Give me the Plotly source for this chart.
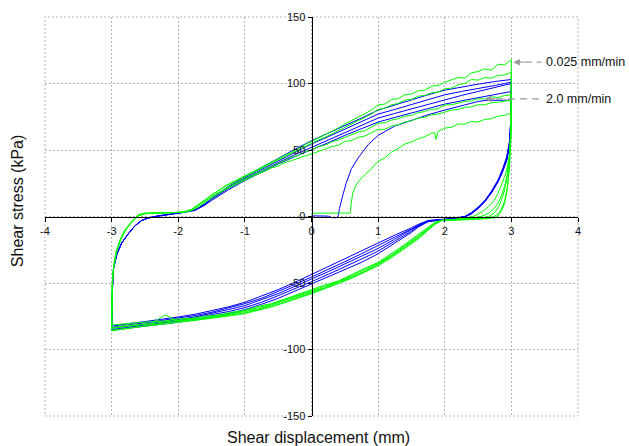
import plotly.graph_objects as go

# ---------------- tick values ----------------
X_TICKS = [-4, -3, -2, -1, 0, 1, 2, 3, 4]
Y_TICKS = [-150, -100, -50, 0, 50, 100, 150]

# ---------------- 2.0 mm/min (blue) ----------------
# initial loading
BX0 = [0.0, 0.25, 0.3, 0.37, 0.4, 0.42, 0.47, 0.52, 0.6, 0.7, 0.85, 1.0, 1.25, 1.5, 1.75, 2.0, 2.25, 2.5, 2.62, 2.8, 3.0]
BY0 = [0.5, 0.3, -0.8, -1.0, 0.5, 6, 16, 25, 36, 44, 54, 61, 68, 72.5, 76.5, 80, 83.5, 86.5, 87.3, 87.5, 87.5]

# unloading branches (3 -> -3)
BXU = [3.0, 2.99, 2.97, 2.93, 2.87, 2.8, 2.7, 2.6, 2.5, 2.4, 2.3, 2.1, 1.9, 1.75, 1.6, 1.5,
       1.25, 1.0, 0.75, 0.5, 0.25, 0.0, -0.25, -0.5, -0.75, -1.0, -1.25, -1.5, -1.75, -2.0,
       -2.25, -2.5, -2.75, -2.9, -3.0]
BU1 = [87.5, 66, 52, 42, 34, 26.5, 18, 11.5, 6.5, 2.5, 0, -1.5, -2.2, -3, -6, -8.5,
       -14, -20, -26, -32, -38, -44, -49.5, -55, -60, -64.5, -68, -71, -73.5, -75.5,
       -77.5, -79, -80.5, -81.5, -82.5]
BU2 = [94, 68, 53, 42.5, 34, 26, 17.5, 11, 6, 2, -0.3, -1.7, -2.4, -3.2, -6.5, -9.5,
       -15.5, -22, -28, -34, -40, -45.5, -51, -56.5, -61.5, -65.5, -69, -72, -74.5, -76.5,
       -78.5, -80, -81.5, -82.5, -83.5]
BU3 = [100, 70, 54, 43, 34.5, 26.5, 18, 11, 6, 2, -0.5, -1.8, -2.5, -3.4, -7, -10,
       -17, -24, -30, -36, -41.5, -47, -52.5, -58, -62.5, -67, -70, -73, -75.5, -77.5,
       -79.5, -81, -82.5, -83.5, -84]
BU4 = [101, 71, 55, 44, 35, 27, 18.5, 11.5, 6.5, 2.5, -0.2, -2, -2.6, -3.6, -7.5, -11,
       -18.5, -26, -32, -38, -43.5, -49, -54.5, -59.5, -64.5, -68.5, -71.5, -74, -76.5, -78.5,
       -80, -81.5, -83, -84, -85]
BU5 = [103, 72, 56, 45, 36, 27.5, 19, 12, 7, 3, 0, -2, -2.8, -4, -8, -12,
       -20, -28, -34.5, -40, -45.5, -51, -56.5, -61.5, -66, -70, -73, -75.5, -77.5, -79.5,
       -81, -82.5, -84, -85, -85.5]

# reloading branches (-3 -> 3)
BXL = [-3.0, -2.985, -2.97, -2.92, -2.85, -2.75, -2.65, -2.55, -2.45, -2.3, -2.1, -1.95,
       -1.75, -1.6, -1.5, -1.25, -1.0, -0.75, -0.5, -0.25, 0.0, 0.25, 0.5, 0.75, 1.0,
       1.25, 1.5, 1.75, 2.0, 2.25, 2.5, 2.75, 2.9, 3.0]
BR1 = [-82.5, -50, -38, -28, -20, -13, -7, -3, -1.2, 0.3, 1.6, 2.8,
       4.5, 8.5, 12, 20, 27, 33.5, 39.5, 45, 50, 55.5, 61, 66, 71,
       74.5, 78, 81.5, 84.5, 87, 89.5, 92, 93, 94]
BR2 = [-83.5, -51, -38.5, -28, -20, -13, -7, -3, -1.2, 0.3, 1.7, 2.9,
       4.8, 9, 13, 21, 28, 34.5, 40.5, 46.5, 52, 57.5, 63, 68.5, 74,
       77.5, 81, 84.5, 88, 91, 94, 97, 98.5, 100]
BR3 = [-84, -51, -38.5, -28, -20, -13, -7, -3, -1, 0.5, 1.8, 3,
       5, 9.5, 13.5, 22, 29, 35.5, 42, 48.5, 54.5, 60, 65.5, 71.5, 77,
       80.5, 84, 88, 91.5, 94, 96, 98.5, 100, 101]
BR4 = [-85, -52, -39, -28.5, -20, -13, -7, -3, -1, 0.5, 1.8, 3,
       5, 9.5, 14, 22.5, 30, 37, 44, 50.5, 57, 62.5, 68.5, 74, 80,
       84, 87.5, 91.5, 95, 97.5, 99.5, 101.5, 102.5, 103]

# ---------------- 0.025 mm/min (green) ----------------
GX0 = [0.0, 0.2, 0.4, 0.58, 0.6, 0.62, 0.66, 0.7, 0.8, 0.9, 1.0, 1.1, 1.2, 1.3, 1.4, 1.5,
       1.6, 1.7, 1.8, 1.85, 1.87, 1.9, 2.0, 2.1, 2.2, 2.3, 2.4, 2.5, 2.6, 2.7, 2.8, 2.9, 3.0]
GY0 = [2.5, 2.6, 2.5, 2.6, 11, 18, 22.5, 26, 31.5, 36, 41.5, 44, 48.5, 51, 54.5, 56,
       58.5, 60, 62.5, 63, 58, 64, 66.5, 67, 69.5, 69.5, 71.5, 71, 73, 73.5, 75.5, 76, 78]

GXU = [3.0, 2.99, 2.97, 2.94, 2.9, 2.85, 2.8, 2.74, 2.66, 2.56, 2.45, 2.3, 2.1, 1.95, 1.85, 1.75,
       1.6, 1.4, 1.2, 1.0, 0.8, 0.6, 0.4, 0.2, 0.0, -0.2, -0.4, -0.6, -0.8, -1.0, -1.2, -1.4,
       -1.6, -1.8, -2.0, -2.2, -2.4, -2.6, -2.8, -2.9, -3.0]
GU1 = [78, 58, 46, 37, 30, 23, 17.5, 12, 7.5, 3.5, 0.5, -1.5, -2.2, -2.8, -4.5, -8,
       -13.5, -21, -28, -34.5, -39, -44, -48.5, -51.5, -55, -58.5, -62, -65.5, -67.5, -70.5,
       -72, -74, -75, -76.5, -77, -78.5, -79, -80, -80.5, -81, -81.5]
GU2 = [87.5, 55, 36, 22, 12, 5.5, 2, 0, -1, -1.5, -2, -2.3, -2.6, -3, -5.5, -9.5,
       -15.5, -22.5, -29.5, -35.5, -41, -45.5, -49, -53.5, -56.5, -60, -63, -66.5, -69.5, -71.5,
       -73.5, -75, -76.5, -77, -78.5, -74, -80.5, -81, -82, -83, -83.5]
GU3 = [91.5, 60, 44, 32, 23, 15.5, 10, 6, 2.5, 0.3, -1, -1.8, -2.4, -2.9, -5, -9,
       -14.5, -22, -29, -35, -40, -44.5, -49, -52.5, -56, -59.5, -63, -66, -68.5, -71,
       -73, -74.5, -76, -77.5, -78, -79.5, -80.5, -81.5, -82.5, -83, -84]
GU4 = [108.5, 62, 38, 21, 10, 4, 0.5, -1, -1.5, -2, -2.2, -2.5, -2.7, -3.2, -6, -10.5,
       -17, -24, -31, -37, -42, -46.5, -50.5, -54.5, -58, -61.5, -65, -68, -70.5, -73,
       -74.5, -76, -77.5, -78.5, -79.5, -81, -82, -83, -84, -85, -85.5]
GU5 = [118, 64, 45, 31, 20, 12, 6.5, 2.5, 0, -1, -1.5, -2, -2.5, -3, -5.5, -10,
       -16, -23.5, -30, -36.5, -41.5, -46, -50, -54, -57.5, -61, -64.5, -67.5, -70, -72.5,
       -74, -75.5, -77, -78, -79, -80, -81.5, -83, -84.5, -85.5, -86]

GXL = [-3.0, -2.99, -2.97, -2.93, -2.87, -2.8,
       -2.7, -2.6, -2.5, -2.4, -2.3, -2.2, -2.1, -2.0, -1.9, -1.8,
       -1.7, -1.6, -1.5, -1.4, -1.3, -1.2, -1.1, -1.0, -0.9, -0.8,
       -0.7, -0.6, -0.5, -0.4, -0.3, -0.2, -0.1, 0.0, 0.1, 0.2,
       0.3, 0.4, 0.5, 0.6, 0.7, 0.8, 0.9, 1.0, 1.1, 1.2,
       1.3, 1.4, 1.5, 1.6, 1.7, 1.8, 1.9, 2.0, 2.1, 2.2,
       2.3, 2.4, 2.5, 2.6, 2.7, 2.8, 2.9, 3.0]
GR1 = [-81.5, -50, -37, -26, -17, -10,
       -4, 0.5, 2, 2.4, 2.5, 2.6, 2.8, 3, 3.3, 4.5,
       7, 10.5, 14, 17, 20, 22.5, 25, 27.5, 30, 32,
       34, 36.5, 38, 40.5, 42, 44, 45.5, 47, 49, 50.5,
       52.5, 53.5, 56.5, 57, 59.5, 60.5, 63, 65.5, 65.5, 68,
       69, 71, 72, 74, 74.5, 76.5, 77, 78.5, 80, 80.5,
       82, 82.5, 84, 84, 85.5, 86, 86.5, 87.5]
GR2 = [-83.5, -51, -38, -27, -18, -11,
       -4.5, 0.5, 2.2, 2.5, 2.5, 2.7, 2.8, 3.1, 3.6, 5,
       8, 11.5, 15, 18, 21, 23.5, 26, 28.5, 31, 33,
       35.5, 37.5, 40, 42, 44.5, 46, 48.5, 50, 52.5, 53.5,
       56, 57.5, 59.5, 61, 63.5, 64.5, 67, 70, 70.5, 72.5,
       73.5, 75.5, 76, 78, 79, 80.5, 81, 84, 84, 85.5,
       86.5, 87, 88.5, 88.5, 90, 89.5, 91, 91.5]
GR3 = [-84, -52, -38, -27, -18, -10.5,
       -4, 1, 2.4, 2.6, 2.6, 2.8, 2.9, 3.2, 3.8, 5.5,
       9, 12.5, 16.5, 19.5, 22.5, 25, 28, 30, 33, 35.5,
       38, 40.5, 43, 45, 47.5, 50, 52.5, 55, 57.5, 59.5,
       62, 64.5, 67.5, 70, 72, 75, 77, 80.5, 81.5, 84,
       85, 87.5, 88, 90.5, 91, 93, 93.5, 96, 96.5, 99,
       100, 103, 102.5, 104.5, 104, 106, 106.5, 108.5]
GR4 = [-85.5, -52, -38, -27, -18, -11,
       -4, 1.5, 2.5, 2.6, 2.6, 2.7, 2.8, 3.0, 3.5, 5,
       8.5, 12, 16.5, 19, 23, 25.5, 28.5, 31, 33, 36,
       38, 41, 43, 46, 48.5, 51, 54, 56.5, 59, 61,
       64, 66.5, 69.5, 72, 75, 77.5, 80, 84, 84.5, 88,
       88.5, 91.5, 92, 94.5, 95, 98, 98.5, 101, 103, 104.5,
       104, 108, 109, 111, 110, 114.5, 114, 118]

BLUE_SEGMENTS = [(BX0, BY0), (BXU, BU1), (BXL, BR1), (BXU, BU2), (BXL, BR2),
                 (BXU, BU3), (BXL, BR3), (BXU, BU4), (BXL, BR4), (BXU, BU5)]
GREEN_SEGMENTS = [(GX0, GY0), (GXU, GU1), (GXL, GR1), (GXU, GU2), (GXL, GR2),
                  (GXU, GU3), (GXL, GR3), (GXU, GU4), (GXL, GR4), (GXU, GU5)]


def join(segments):
    xs, ys = [], []
    for sx, sy in segments:
        n = min(len(sx), len(sy))
        if len(sx) != len(sy):
            print("length mismatch", len(sx), len(sy))
        xs += list(sx[:n])
        ys += list(sy[:n])
    return xs, ys


FONT = "Arial, 'Liberation Sans', sans-serif"
GRID_COLOR = "#b4b4b4"
GRID_DASH = "2px,2px"

fig = go.Figure()
bx, by = join(BLUE_SEGMENTS)
gx, gy = join(GREEN_SEGMENTS)
fig.add_trace(go.Scatter(x=bx, y=by, mode="lines", line=dict(color="#0000FF", width=1),
                         name="2.0 mm/min", hoverinfo="skip"))
fig.add_trace(go.Scatter(x=gx, y=gy, mode="lines", line=dict(color="#00FF00", width=1),
                         name="0.025 mm/min", hoverinfo="skip"))

axis_common = dict(
    showgrid=True, gridcolor=GRID_COLOR, griddash=GRID_DASH, gridwidth=1,
    zeroline=False, showline=True, linecolor="black", linewidth=1.5,
    ticks="outside", ticklen=4, tickwidth=1, tickcolor="black",
    anchor="free", position=0.5,
    tickfont=dict(family=FONT, size=11, color="#111111"),
)
fig.update_xaxes(range=[-4, 4], tickvals=X_TICKS, ticktext=[str(v) for v in X_TICKS], **axis_common)
fig.update_yaxes(range=[-150, 150], tickvals=Y_TICKS, ticktext=[str(v) for v in Y_TICKS], **axis_common)

# dotted frame of the plotting area (outermost grid lines)
shapes = [dict(type="rect", xref="paper", yref="paper", x0=0, x1=1, y0=0, y1=1, layer="below",
               line=dict(color=GRID_COLOR, width=1, dash=GRID_DASH))]
annotations = []

# rate labels with dashed leader arrows
LABELS = [("0.025 mm/min", 3.03, 116.0), ("2.0 mm/min", 2.6, 88.4)]
for text, tip_x, yy in LABELS:
    shapes.append(dict(type="line", xref="x", yref="y", x0=tip_x + 0.17, x1=3.45, y0=yy, y1=yy,
                       line=dict(color="#999999", width=1.3, dash="7px,5px")))
    annotations.append(dict(x=tip_x, y=yy, xref="x", yref="y", text="", showarrow=True,
                            ax=12, ay=0, arrowhead=2, arrowsize=1, arrowwidth=1.3,
                            arrowcolor="#999999", standoff=0))
    annotations.append(dict(x=3.49, y=yy, xref="x", yref="y", text=text, showarrow=False,
                            xanchor="left", yanchor="middle",
                            font=dict(family=FONT, size=12.5, color="#111111")))

annotations.append(dict(text="Shear displacement (mm)", xref="paper", yref="paper",
                        x=0.514, y=-0.053, xanchor="center", yanchor="middle", showarrow=False,
                        font=dict(family=FONT, size=16, color="#111111")))
annotations.append(dict(text="Shear stress (kPa)", xref="paper", yref="paper",
                        x=-0.051, y=0.538, xanchor="center", yanchor="middle", showarrow=False,
                        textangle=-90, font=dict(family=FONT, size=16, color="#111111")))

fig.update_layout(
    width=629, height=446,
    margin=dict(l=45, r=51, t=17, b=30),
    paper_bgcolor="white", plot_bgcolor="white",
    showlegend=False,
    shapes=shapes, annotations=annotations,
)

fig.write_html("out.html",
               config={"displayModeBar": False, "staticPlot": True},
               post_script="document.body.style.margin='0px';document.body.style.padding='0px';"
                           "document.body.style.overflow='hidden';")
